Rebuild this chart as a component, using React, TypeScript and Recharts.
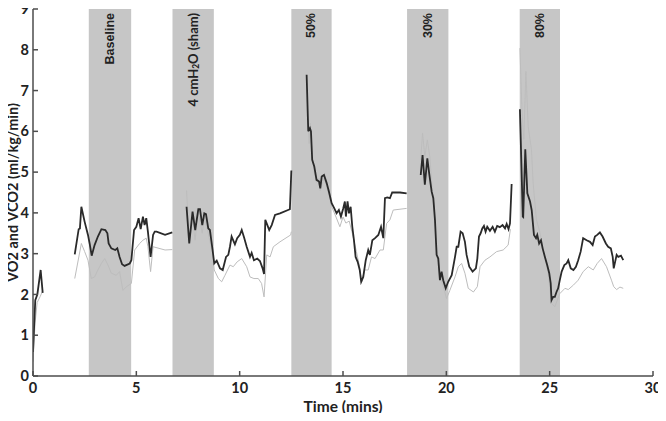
import React from "react";
import {
  LineChart,
  Line,
  XAxis,
  YAxis,
  ReferenceArea,
} from "recharts";

// [time (mins), value]; null value = gap in the trace
const vo2Points: [number, number | null][] = [
  [0, 0.59], [0.11, 1.86], [0.21, 2.0], [0.37, 2.6], [0.47, 2.04],
  [1.2, null],
  [2.02, 2.98], [2.21, 3.6], [2.27, 3.62], [2.34, 4.15], [2.5, 3.78], [2.66, 3.46],
  [2.74, 3.25], [2.84, 2.95], [2.98, 3.21], [3.14, 3.42], [3.31, 3.6], [3.5, 3.58],
  [3.6, 3.5], [3.66, 3.25], [3.79, 3.13], [3.98, 3.09], [4.08, 3.13], [4.19, 2.92],
  [4.31, 2.74], [4.43, 2.7], [4.68, 2.76], [4.76, 2.84], [4.89, 3.58], [5.0, 3.66],
  [5.11, 3.87], [5.21, 3.6], [5.32, 3.91], [5.4, 3.7], [5.48, 3.87], [5.56, 3.54],
  [5.69, 2.92], [5.81, 3.46], [5.89, 3.54], [5.98, 3.54], [6.39, 3.46], [6.74, 3.52],
  [7.1, null],
  [7.43, 4.15], [7.56, 3.25], [7.72, 4.03], [7.85, 3.58], [8.0, 4.09], [8.08, 4.09],
  [8.19, 3.7], [8.29, 3.99], [8.37, 3.97], [8.48, 3.62], [8.56, 3.58], [8.69, 3.09],
  [8.77, 2.76], [8.89, 2.83], [9.05, 2.64], [9.18, 2.6], [9.34, 2.92], [9.45, 2.97],
  [9.53, 3.17], [9.61, 3.42], [9.77, 3.23], [9.88, 3.38], [10.01, 3.46], [10.1, 3.58],
  [10.21, 3.4], [10.34, 3.17], [10.5, 2.92], [10.58, 3.02], [10.69, 2.84], [10.85, 2.88],
  [10.98, 2.82], [11.11, 2.64], [11.18, 2.5], [11.24, 3.83], [11.34, 3.7], [11.43, 3.58],
  [11.55, 3.7], [11.71, 3.95], [11.95, 3.99], [12.43, 4.09], [12.5, 5.04],
  [12.9, null],
  [13.24, 7.39], [13.32, 6.0], [13.4, 6.08], [13.45, 6.0], [13.51, 5.3], [13.61, 5.14],
  [13.72, 4.81], [13.84, 4.77], [13.9, 4.6], [13.97, 4.89], [14.08, 4.93], [14.21, 4.73],
  [14.32, 4.52], [14.45, 4.24], [14.58, 4.11], [14.69, 3.99], [14.8, 4.07], [14.9, 3.91],
  [15.01, 4.11], [15.09, 4.28], [15.14, 3.91], [15.22, 4.28], [15.29, 3.99], [15.37, 4.15],
  [15.45, 3.66], [15.53, 3.33], [15.61, 2.92], [15.71, 2.8], [15.81, 2.6], [15.88, 2.31],
  [15.98, 2.43], [16.1, 2.84], [16.22, 3.09], [16.3, 2.97], [16.42, 3.33], [16.55, 3.38],
  [16.71, 3.46], [16.84, 3.66], [16.95, 3.38], [17.03, 4.36], [17.14, 4.38], [17.27, 4.36],
  [17.38, 4.5], [17.76, 4.5], [18.08, 4.48],
  [18.4, null],
  [18.76, 4.93], [18.85, 5.42], [18.96, 4.69], [19.08, 5.34], [19.17, 4.97], [19.29, 4.52],
  [19.37, 4.36], [19.45, 3.83], [19.53, 2.97], [19.61, 2.88], [19.69, 2.35], [19.77, 2.56],
  [19.85, 2.35], [19.97, 2.15], [20.09, 2.31], [20.26, 2.47], [20.42, 2.92], [20.5, 3.17],
  [20.58, 3.17], [20.69, 3.54], [20.79, 3.5], [20.9, 3.29], [20.98, 2.97], [21.11, 2.68],
  [21.27, 2.56], [21.43, 2.64], [21.5, 2.88], [21.58, 3.42], [21.66, 3.5], [21.74, 3.62],
  [21.82, 3.68], [21.9, 3.54], [21.98, 3.66], [22.11, 3.56], [22.24, 3.66], [22.35, 3.54],
  [22.46, 3.68], [22.59, 3.65], [22.72, 3.7], [22.84, 3.62], [22.92, 3.73], [23.01, 3.6],
  [23.08, 3.74], [23.16, 4.71],
  [23.35, null],
  [23.56, 6.54], [23.7, 3.91], [23.72, 3.9], [23.82, 5.56], [23.92, 4.48], [24.05, 4.28],
  [24.13, 4.07], [24.24, 3.46], [24.34, 3.38], [24.4, 3.46], [24.49, 3.25], [24.58, 3.33],
  [24.66, 3.13], [24.77, 2.92], [24.88, 2.72], [24.98, 2.52], [25.05, 2.27], [25.09, 1.86],
  [25.17, 1.94], [25.25, 1.94], [25.33, 2.06], [25.41, 2.15], [25.49, 2.35], [25.58, 2.56],
  [25.71, 2.72], [25.82, 2.76], [25.9, 2.84], [26.02, 2.64], [26.15, 2.6], [26.27, 2.68],
  [26.38, 2.84], [26.5, 3.05], [26.62, 3.38], [26.79, 3.33], [26.95, 3.29], [27.08, 3.21],
  [27.19, 3.42], [27.3, 3.46], [27.43, 3.52], [27.56, 3.42], [27.72, 3.25], [27.83, 3.17],
  [27.96, 3.13], [28.05, 2.92], [28.1, 2.64], [28.24, 2.97], [28.32, 2.92], [28.45, 2.95],
  [28.56, 2.84],
];

const vco2Points: [number, number | null][] = [
  [0, 0.35], [0.1, 1.3], [0.2, 1.8], [0.35, 1.95], [0.47, 2.1],
  [1.2, null],
  [2.02, 2.39], [2.34, 3.25], [2.5, 3.05], [2.66, 2.84], [2.82, 2.39], [2.98, 2.43],
  [3.14, 2.6], [3.31, 2.76], [3.47, 2.88], [3.63, 2.72], [3.79, 2.52], [4.03, 2.47],
  [4.19, 2.56], [4.35, 2.1], [4.52, 2.19], [4.76, 2.27], [4.92, 3.09], [5.16, 3.25],
  [5.32, 3.33], [5.48, 3.38], [5.56, 3.17], [5.69, 2.56], [5.81, 3.17], [6.39, 3.09],
  [6.74, 3.1],
  [7.1, null],
  [7.43, 4.55], [7.56, 3.3], [7.72, 3.9], [7.84, 3.33], [8.0, 4.0], [8.19, 3.5],
  [8.29, 3.9], [8.48, 3.5], [8.69, 3.0], [8.77, 2.6], [8.97, 2.39], [9.13, 2.31],
  [9.29, 2.47], [9.53, 2.72], [9.69, 2.68], [9.88, 2.8], [10.1, 2.88], [10.34, 2.68],
  [10.5, 2.43], [10.69, 2.39], [10.9, 2.39], [11.06, 2.27], [11.18, 1.94], [11.31, 2.97],
  [11.47, 2.92], [11.63, 3.17], [11.95, 3.29], [12.47, 3.46], [12.5, 3.54],
  [12.9, null],
  [13.3, 6.3], [13.36, 5.7], [13.42, 6.2], [13.5, 5.4], [13.6, 5.0], [13.72, 4.75],
  [13.84, 4.85], [13.9, 4.55], [14.08, 4.85], [14.32, 4.45], [14.45, 4.15], [14.58, 4.0],
  [14.7, 3.85], [14.85, 3.66], [15.0, 3.9], [15.14, 3.75], [15.3, 3.8], [15.45, 3.5],
  [15.65, 3.05], [15.8, 2.68], [15.9, 2.3], [16.05, 2.6], [16.22, 2.6], [16.38, 2.92],
  [16.55, 2.88], [16.79, 3.09], [16.95, 3.09], [17.11, 3.74], [17.27, 3.83], [17.43, 4.07],
  [18.08, 4.11],
  [18.4, null],
  [18.76, 5.3], [18.85, 5.96], [18.96, 5.38], [19.08, 5.79], [19.2, 5.38], [19.3, 4.7],
  [19.45, 3.9], [19.55, 3.0], [19.7, 2.4], [19.85, 2.2], [20.01, 1.9], [20.17, 2.1],
  [20.42, 2.43], [20.58, 2.68], [20.74, 2.76], [20.9, 2.52], [21.06, 2.15], [21.31, 2.06],
  [21.5, 2.19], [21.63, 2.68], [21.87, 2.84], [22.11, 2.92], [22.43, 3.05], [22.75, 3.09],
  [22.99, 3.21], [23.1, 3.6],
  [23.35, null],
  [23.56, 8.04], [23.66, 6.5], [23.75, 5.8], [23.85, 7.47], [23.96, 6.12], [24.12, 5.55],
  [24.2, 4.73], [24.36, 3.83], [24.52, 3.54], [24.69, 3.09], [24.93, 2.52], [25.09, 1.78],
  [25.25, 1.7], [25.49, 2.02], [25.74, 2.15], [25.9, 2.12], [26.15, 2.23], [26.38, 2.35],
  [26.62, 2.56], [26.87, 2.68], [27.11, 2.6], [27.3, 2.76], [27.51, 2.88], [27.75, 2.68],
  [27.99, 2.35], [28.1, 2.19], [28.24, 2.12], [28.4, 2.18], [28.56, 2.15],
];

// shaded intervention periods (mins)
const phaseLabels = ["Baseline", "4 cmH2O (sham)", "50%", "30%", "80%"];
const phaseStart = [2.7, 6.75, 12.5, 18.1, 23.55];
const phaseEnd = [4.75, 8.75, 14.45, 20.1, 25.5];

const xTicks = [0, 5, 10, 15, 20, 25, 30];
const yTicks = [0, 1, 2, 3, 4, 5, 6, 7, 8, 9];

const vo2Data = vo2Points.map(([t, v]) => ({ t, v }));
const vco2Data = vco2Points.map(([t, v]) => ({ t, v }));

const AXIS = "#4d4d4d";
const FONT = "Lato, 'Open Sans', sans-serif";

const BandLabel = ({ viewBox, text }: any) => {
  if (!viewBox) return null;
  const cx = viewBox.x + viewBox.width / 2;
  const y = viewBox.y + 4;
  const sham = text.includes("cmH2O");
  if (sham) {
    return (
      <text
        x={cx}
        y={y}
        transform={`rotate(-90 ${cx} ${y})`}
        textAnchor="end"
        dominantBaseline="central"
        fontFamily={FONT}
        fontWeight={700}
        fontSize={13}
        fill="#222"
      >
        <tspan>4 cmH</tspan>
        <tspan fontSize={8.5} dy={3}>2</tspan>
        <tspan dy={-3}>O (sham)</tspan>
      </text>
    );
  }
  return (
    <text
      x={cx}
      y={y}
      transform={`rotate(-90 ${cx} ${y})`}
      textAnchor="end"
      dominantBaseline="central"
      fontFamily="'Liberation Sans Narrow', 'Arial Narrow', sans-serif"
      fontWeight={700}
      fontSize={12.5}
      fill="#222"
    >
      {text}
    </text>
  );
};

// y-axis title, centred on the plot height
const YTitle = ({ viewBox }: any) => {
  if (!viewBox) return null;
  const cx = 12;
  const cy = viewBox.y + viewBox.height / 2;
  return (
    <text
      x={cx}
      y={cy}
      transform={`rotate(-90 ${cx} ${cy})`}
      textAnchor="middle"
      dominantBaseline="central"
      fontFamily={FONT}
      fontWeight={700}
      fontSize={14.5}
      fill="#222"
    >
      VO2 and VCO2 (ml/kg/min)
    </text>
  );
};

export default function App() {
  return (
    <div style={{ margin: -8, background: "#fff", width: 666, height: 421 }}>
      <LineChart
        width={666}
        height={421}
        margin={{ top: 9, right: 13, bottom: 0, left: 0 }}
        style={{ overflow: "visible" }}
      >
        <XAxis
          dataKey="t"
          type="number"
          domain={[0, 30]}
          ticks={xTicks}
          allowDataOverflow
          height={45}
          tickSize={-5}
          tickMargin={12}
          axisLine={{ stroke: AXIS, strokeWidth: 1.5 }}
          tickLine={{ stroke: AXIS, strokeWidth: 1.5 }}
          tick={{ fontSize: 14.5, fontWeight: 700, fill: "#222", fontFamily: FONT }}
          label={{
            value: "Time (mins)",
            position: "insideBottom",
            offset: 9,
            style: { fontSize: 15.5, fontWeight: 700, fill: "#222", fontFamily: FONT },
          }}
        />
        <XAxis
          xAxisId="top"
          orientation="top"
          dataKey="t"
          type="number"
          domain={[0, 30]}
          ticks={xTicks}
          height={0}
          tick={false}
          tickSize={-5}
          axisLine={{ stroke: AXIS, strokeWidth: 1.5 }}
          tickLine={{ stroke: AXIS, strokeWidth: 1.5 }}
        />
        <YAxis
          type="number"
          domain={[0, 9]}
          ticks={yTicks}
          width={33}
          tickSize={-5}
          tickMargin={9}
          axisLine={{ stroke: AXIS, strokeWidth: 1.5 }}
          tickLine={{ stroke: AXIS, strokeWidth: 1.5 }}
          tick={{ fontSize: 14.5, fontWeight: 700, fill: "#222", fontFamily: FONT }}
          label={<YTitle />}
        />
        <YAxis
          yAxisId="right"
          orientation="right"
          type="number"
          domain={[0, 9]}
          ticks={yTicks}
          width={0}
          tick={false}
          tickSize={-5}
          axisLine={{ stroke: AXIS, strokeWidth: 1.5 }}
          tickLine={{ stroke: AXIS, strokeWidth: 1.5 }}
        />
        {phaseLabels.map((name, i) => (
          <ReferenceArea
            key={name}
            x1={phaseStart[i]}
            x2={phaseEnd[i]}
            y1={0}
            y2={9}
            fill="#c6c6c6"
            fillOpacity={1}
            stroke="none"
            label={<BandLabel text={name} />}
          />
        ))}
        <Line
          data={vco2Data}
          dataKey="v"
          type="linear"
          stroke="#bdbdbd"
          strokeWidth={1}
          dot={false}
          activeDot={false}
          isAnimationActive={false}
        />
        <Line
          data={vo2Data}
          dataKey="v"
          type="linear"
          stroke="#2a2a2a"
          strokeWidth={1.8}
          dot={false}
          activeDot={false}
          isAnimationActive={false}
        />
      </LineChart>
    </div>
  );
}
